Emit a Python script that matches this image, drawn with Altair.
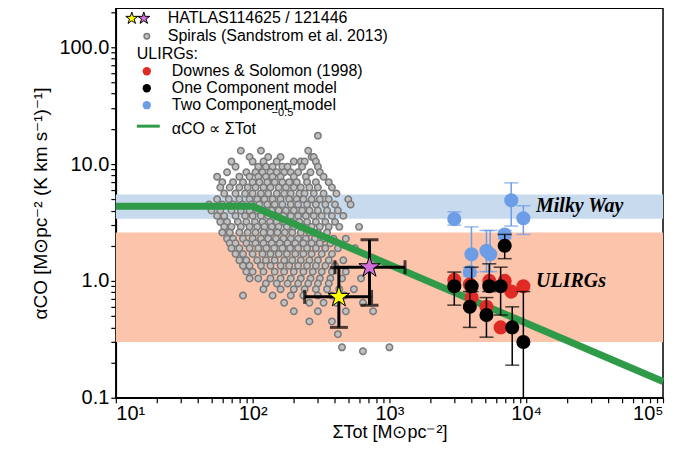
import altair as alt
import pandas as pd

spiral_rows = [
    (17.5, [300]),
    (13.0, [82, 115, 255]),
    (11.5, [95, 130, 160, 270, 280]),
    (10.5, [70, 100, 120, 150, 200, 225, 240, 290]),
    (9.5, [75, 110, 125, 140, 165, 180, 230, 300]),
    (8.5, [65, 90, 105, 118, 135, 150, 170, 190, 215, 265, 310]),
    (7.8, [55, 80, 95, 110, 125, 140, 160, 200, 245, 330]),
    (7.0, [60, 72, 85, 100, 112, 128, 145, 165, 185, 210, 250, 290, 360]),
    (6.3, [58, 68, 80, 92, 105, 120, 135, 155, 175, 200, 225, 260, 300, 380]),
    (5.6, [62, 75, 88, 100, 115, 130, 150, 170, 190, 220, 240, 280, 330, 410]),
    (5.0, [55, 67, 80, 95, 108, 122, 140, 160, 185, 210, 235, 270, 310, 360, 500]),
    (4.5, [48, 60, 72, 85, 98, 112, 128, 145, 165, 190, 215, 250, 290, 340, 400, 520]),
    (4.0, [50, 58, 70, 82, 95, 108, 122, 138, 155, 175, 200, 230, 260, 300, 350, 420]),
    (3.6, [55, 62, 75, 88, 100, 115, 130, 148, 168, 190, 215, 245, 280, 320, 380, 460]),
    (3.2, [58, 65, 78, 90, 104, 118, 134, 150, 170, 195, 220, 250, 290, 340, 400]),
    (2.9, [62, 70, 82, 95, 108, 122, 138, 155, 178, 200, 230, 270, 310, 360, 430, 600]),
    (2.6, [60, 68, 80, 92, 105, 120, 135, 152, 172, 195, 225, 260, 300, 350]),
    (2.3, [65, 72, 85, 100, 115, 130, 148, 168, 190, 215, 245, 285, 330, 390, 480]),
    (2.1, [68, 75, 90, 105, 120, 138, 158, 180, 205, 235, 270, 310, 370]),
    (1.9, [70, 80, 95, 110, 126, 144, 165, 188, 215, 250, 290, 340, 420, 560]),
    (1.7, [75, 85, 100, 118, 135, 155, 178, 205, 235, 270, 320, 380]),
    (1.5, [80, 90, 108, 125, 145, 170, 195, 225, 260, 300, 360, 460, 750]),
    (1.35, [85, 95, 115, 135, 160, 185, 215, 250, 290, 340, 400]),
    (1.2, [90, 100, 120, 145, 170, 200, 235, 275, 320, 380, 480]),
    (1.05, [95, 110, 135, 160, 190, 225, 265, 310, 370, 450, 620]),
    (0.95, [125, 150, 180, 215, 255, 300, 360]),
    (0.85, [120, 160, 200, 240, 290, 350, 430, 550]),
    (0.75, [85, 140, 190, 235, 300, 380, 470]),
    (0.65, [170, 260, 330, 410, 640]),
    (0.55, [200, 300, 480, 760]),
    (0.45, [260, 380]),
    (0.35, [420]),
    (0.27, [450, 1000]),
    (0.25, [640]),
]

two_x = [2980, 7770, 9530, 6960, 3980, 5120, 5450, 3870]
two_y = [3.38, 4.89, 3.44, 2.49, 1.69, 1.81, 1.69, 1.19]
two_lo = [3.0, 2.95, 2.5, 2.3, 1.19, 1.2, 1.2, 1.1]
two_hi = [3.9, 6.9, 4.4, 2.7, 2.9, 2.7, 2.7, 1.3]
ds_x = [2980, 3870, 3990, 5120, 5370, 6960, 7770, 9530, 6500]
ds_y = [1.02, 0.93, 0.72, 0.60, 1.0, 1.0, 0.81, 0.90, 0.40]
one_x = [2980, 3990, 3870, 5120, 5370, 6500, 6960, 7900, 9530]
one_y = [0.90, 0.90, 0.60, 0.51, 0.90, 0.90, 2.0, 0.40, 0.30]
one_lo = [0.62, 0.81, 0.40, 0.33, 0.81, 0.51, 1.55, 0.19, 0.1]
one_hi = [1.19, 1.31, 0.81, 0.72, 1.4, 1.31, 2.5, 0.60, 0.81]
st_x = [427, 715]
st_y = [0.73, 1.31]
st_xlo = [240, 400]
st_xhi = [740, 1300]
st_ylo = [0.40, 0.62]
st_yhi = [1.30, 2.25]
st_col = ["#ffff00", "#d070d8"]
line_x = [10, 100, 100000]
line_y = [4.35, 4.35, 0.1376]
bands_lo = [3.4, 0.30]
bands_hi = [5.5, 2.6]
band_col = ["#c8dbee", "#fbc4ab"]

STAR = "M0,-1L0.2245,-0.309L0.951,-0.309L0.3633,0.118L0.5878,0.809L0,0.382L-0.5878,0.809L-0.3633,0.118L-0.951,-0.309L-0.2245,-0.309Z"

sp = pd.DataFrame([(x, y) for y, xs in spiral_rows for x in xs], columns=["x", "y"])
two = pd.DataFrame(dict(x=two_x, y=two_y, lo=two_lo, hi=two_hi))
ds = pd.DataFrame(dict(x=ds_x, y=ds_y))
one = pd.DataFrame(dict(x=one_x, y=one_y, lo=one_lo, hi=one_hi))
st = pd.DataFrame(dict(x=st_x, y=st_y, xlo=st_xlo, xhi=st_xhi, ylo=st_ylo, yhi=st_yhi, c=st_col))
ln = pd.DataFrame(dict(x=line_x, y=line_y))
bd = pd.DataFrame(dict(x=[10, 10], x2=[100000, 100000], lo=bands_lo, hi=bands_hi, c=band_col))

xt = [v * 10**d for d in range(1, 5) for v in range(1, 10)] + [100000]
yt = [v * 10**d for d in range(-1, 3) for v in range(1, 10)]
FONT = "Liberation Sans"
xsc = alt.Scale(type="log", domain=[10, 100000])
ysc = alt.Scale(type="log", domain=[0.1, 215])
xaxis = alt.Axis(
    orient="bottom", values=xt, title="ΣTot [M⊙pc⁻²]",
    labelExpr="abs(log(datum.value)/LN10 - round(log(datum.value)/LN10)) < 0.001 ? '10' + ['⁰','¹','²','³','⁴','⁵'][round(log(datum.value)/LN10)] : ''",
    labelFontSize=20, titleFontSize=18, labelFont=FONT, titleFont=FONT, labelColor="black",
    titleColor="black", titleFontWeight="normal", grid=False, tickColor="black", domainColor="black",
    labelPadding=1, titlePadding=0)
yaxis = alt.Axis(
    orient="left", values=yt, title="αCO [M⊙pc⁻² (K km s⁻¹)⁻¹]",
    labelExpr="abs(log(datum.value)/LN10 - round(log(datum.value)/LN10)) < 0.001 ? format(datum.value, '.1f') : ''",
    labelFontSize=20, titleFontSize=19, labelFont=FONT, titleFont=FONT, labelColor="black",
    titleColor="black", titleFontWeight="normal", grid=False, tickColor="black", domainColor="black", titlePadding=8)

def X(f):
    return alt.X(f, type="quantitative", scale=xsc, axis=xaxis)
def Y(f):
    return alt.Y(f, type="quantitative", scale=ysc, axis=yaxis)

band = alt.Chart(bd).mark_rect().encode(
    x=X("x"), x2="x2", y=Y("hi"), y2="lo",
    color=alt.Color("c:N", scale=None))
spiral = alt.Chart(sp).mark_circle(size=42, color="#c0c0c0", stroke="#7a7a7a", strokeWidth=1.5, opacity=1).encode(x=X("x"), y=Y("y"))
line = alt.Chart(ln).mark_line(color="#2f9a48", strokeWidth=7).encode(x=X("x"), y=Y("y"))

def errbars(df, color, w):
    r = alt.Chart(df).mark_rule(color=color, strokeWidth=w).encode(x=X("x"), y=Y("lo"), y2="hi")
    c1 = alt.Chart(df).mark_tick(color=color, orient="horizontal", size=14, thickness=w).encode(x=X("x"), y=Y("lo"))
    c2 = alt.Chart(df).mark_tick(color=color, orient="horizontal", size=14, thickness=w).encode(x=X("x"), y=Y("hi"))
    return [r, c1, c2]

two_l = errbars(two, "#6d9de6", 1.5) + [alt.Chart(two).mark_circle(size=200, color="#6d9de6", opacity=1).encode(x=X("x"), y=Y("y"))]
ds_l = [alt.Chart(ds).mark_circle(size=200, color="#e02b25", opacity=1).encode(x=X("x"), y=Y("y"))]
one_l = errbars(one, "black", 1.5) + [alt.Chart(one).mark_circle(size=200, color="black", opacity=1).encode(x=X("x"), y=Y("y"))]

star_l = [
    alt.Chart(st).mark_rule(color="black", strokeWidth=3).encode(x=X("xlo"), x2="xhi", y=Y("y")),
    alt.Chart(st).mark_rule(color="black", strokeWidth=3).encode(x=X("x"), y=Y("ylo"), y2="yhi"),
    alt.Chart(st).mark_tick(color="black", orient="horizontal", size=18, thickness=3).encode(x=X("x"), y=Y("ylo")),
    alt.Chart(st).mark_tick(color="black", orient="horizontal", size=18, thickness=3).encode(x=X("x"), y=Y("yhi")),
    alt.Chart(st).mark_tick(color="black", orient="vertical", size=14, thickness=3).encode(x=X("xlo"), y=Y("y")),
    alt.Chart(st).mark_tick(color="black", orient="vertical", size=14, thickness=3).encode(x=X("xhi"), y=Y("y")),
    alt.Chart(st).mark_point(shape=STAR, size=500, filled=True, stroke="black", strokeWidth=1, opacity=1).encode(
        x=X("x"), y=Y("y"), fill=alt.Fill("c:N", scale=None)),
]

lab_df = pd.DataFrame(dict(x=[11800, 11800], y=[4.35, 1.0], t=["Milky Way", "ULIRGs"]))
labels = alt.Chart(lab_df).mark_text(font="Liberation Serif", fontStyle="italic", fontWeight="bold",
                                     fontSize=20, align="left", color="black").encode(x=X("x"), y=Y("y"), text="t:N")

def lt(x, y, t, size=16):
    return alt.Chart(pd.DataFrame({"t": [t]})).mark_text(font=FONT, fontSize=size, align="left", baseline="middle", color="black").encode(
        x=alt.value(x), y=alt.value(y), text="t:N")
def lp(x, y, **kw):
    return alt.Chart(pd.DataFrame({"a": [0]})).mark_point(opacity=1, **kw).encode(x=alt.value(x), y=alt.value(y))
legend = [
    lp(16, 10, shape=STAR, size=160, filled=True, fill="#ffff00", stroke="black", strokeWidth=1),
    lp(28, 10, shape=STAR, size=160, filled=True, fill="#d070d8", stroke="black", strokeWidth=1),
    lt(52, 10, "HATLAS114625 / 121446"),
    lp(31, 28, shape="circle", size=30, filled=True, fill="#c0c0c0", stroke="#7a7a7a", strokeWidth=1.5),
    lt(52, 28, "Spirals (Sandstrom et al. 2013)"),
    lt(21, 46, "ULIRGs:"),
    lp(31, 63, shape="circle", size=70, filled=True, fill="#e02b25", strokeWidth=0),
    lt(56, 63, "Downes & Solomon (1998)"),
    lp(31, 80, shape="circle", size=70, filled=True, fill="black", strokeWidth=0),
    lt(56, 80, "One Component model"),
    lp(31, 97, shape="circle", size=70, filled=True, fill="#6d9de6", strokeWidth=0),
    lt(56, 97, "Two Component model"),
    alt.Chart(pd.DataFrame({"a": [0]})).mark_rule(color="#2f9a48", strokeWidth=3).encode(
        x=alt.value(21), x2=alt.value(44), y=alt.value(118)),
    lt(56, 121, "αCO ∝ ΣTot"),
    lt(156, 105, "−0.5", size=11),
]

layers = [band, spiral, line] + two_l + ds_l + one_l + star_l + [labels] + legend
chart = alt.layer(*layers).properties(
    width=548, height=390, padding={"left": 108, "top": 0, "right": 10, "bottom": 56},
    autosize=alt.AutoSizeParams(type="none"),
).configure_view(stroke="black", strokeWidth=1.5).configure_axis(tickSize=5, domainWidth=1.5, tickWidth=1.2)

chart.save("out.html", embed_options={"renderer": "svg", "actions": False})
